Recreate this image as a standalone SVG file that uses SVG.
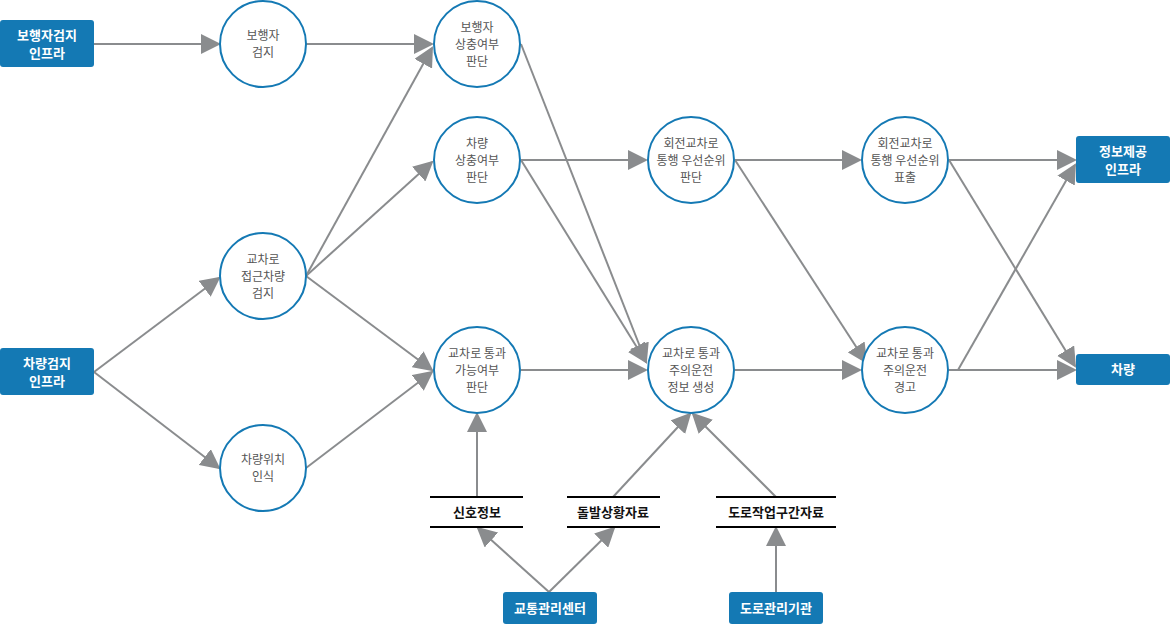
<svg xmlns="http://www.w3.org/2000/svg" width="1170" height="624" viewBox="0 0 1170 624">
<style>
text{font-family:"Noto Sans CJK KR","Noto Sans",sans-serif;text-anchor:middle}
.c{fill:#fff;stroke:#1479b4;stroke-width:2}
.ct{font-size:12px;fill:#555}
.b{fill:#1479b4}
.bt{font-size:13px;font-weight:bold;fill:#fff}
.e{stroke:#8a8c8e;stroke-width:2;fill:none;marker-end:url(#a)}
.s{stroke:#000;stroke-width:2}
.st{font-size:13px;font-weight:bold;fill:#111}
</style>
<defs><marker id="a" viewBox="0 0 10 10" refX="9" refY="5" markerWidth="6" markerHeight="6" orient="auto" markerUnits="userSpaceOnUse" ><path d="M0,0L10,5L0,10z" fill="#8a8c8e"/></marker></defs>
<defs><marker id="a2" viewBox="0 0 10 10" refX="9" refY="5" markerWidth="10" markerHeight="10" orient="auto"><path d="M0,0L10,5L0,10z" fill="#8a8c8e"/></marker></defs>
<style>.e{marker-end:url(#a2)}</style>
<g id="edges">
<line class="e" x1="94" y1="44" x2="219" y2="44"/>
<line class="e" x1="306" y1="44" x2="432" y2="44"/>
<line class="e" x1="94" y1="372" x2="219" y2="278"/>
<line class="e" x1="94" y1="372" x2="219" y2="468"/>
<line class="e" x1="306" y1="276" x2="432" y2="48"/>
<line class="e" x1="306" y1="276" x2="432" y2="162"/>
<line class="e" x1="306" y1="276" x2="432" y2="370"/>
<line class="e" x1="306" y1="468" x2="432" y2="372"/>
<line class="e" x1="521" y1="44" x2="646" y2="362"/>
<line class="e" x1="521" y1="160" x2="646" y2="160"/>
<line class="e" x1="521" y1="160" x2="646" y2="362"/>
<line class="e" x1="521" y1="370" x2="646" y2="370"/>
<line class="e" x1="477" y1="497" x2="477" y2="414"/>
<line class="e" x1="613" y1="497" x2="690" y2="414"/>
<line class="e" x1="776" y1="497" x2="693" y2="414"/>
<line class="e" x1="549" y1="592" x2="478" y2="528"/>
<line class="e" x1="549" y1="592" x2="614" y2="528"/>
<line class="e" x1="776" y1="592" x2="776" y2="528"/>
<line class="e" x1="735" y1="160" x2="860" y2="160"/>
<line class="e" x1="735" y1="160" x2="866" y2="362"/>
<line class="e" x1="735" y1="370" x2="860" y2="370"/>
<line class="e" x1="949" y1="160" x2="1075" y2="160"/>
<line class="e" x1="949" y1="160" x2="1075" y2="366"/>
<line class="e" x1="949" y1="370" x2="1075" y2="370"/>
<line class="e" x1="958" y1="370" x2="1075" y2="165"/>
</g>
<g id="n1"><rect class="b" x="0" y="20" width="94" height="47" rx="3"/><text class="bt" x="47" y="40">보행자검지</text><text class="bt" x="47" y="58">인프라</text></g>
<g id="n2"><rect class="b" x="0" y="348" width="94" height="47" rx="3"/><text class="bt" x="47" y="368">차량검지</text><text class="bt" x="47" y="386">인프라</text></g>
<g id="n3"><rect class="b" x="1076" y="136" width="94" height="47" rx="3"/><text class="bt" x="1123" y="156">정보제공</text><text class="bt" x="1123" y="174">인프라</text></g>
<g id="n4"><rect class="b" x="1076" y="354" width="94" height="31" rx="3"/><text class="bt" x="1123" y="374">차량</text></g>
<g id="n5"><rect class="b" x="503" y="592" width="94" height="32" rx="3"/><text class="bt" x="550" y="613">교통관리센터</text></g>
<g id="n6"><rect class="b" x="729" y="592" width="94" height="32" rx="3"/><text class="bt" x="776" y="613">도로관리기관</text></g>
<g id="c1"><circle class="c" cx="263" cy="44" r="43"/><text class="ct" x="263" y="40">보행자</text><text class="ct" x="263" y="57">검지</text></g>
<g id="c2"><circle class="c" cx="477" cy="44" r="43"/><text class="ct" x="477" y="32">보행자</text><text class="ct" x="477" y="49">상충여부</text><text class="ct" x="477" y="66">판단</text></g>
<g id="c3"><circle class="c" cx="477" cy="160" r="43"/><text class="ct" x="477" y="148">차량</text><text class="ct" x="477" y="165">상충여부</text><text class="ct" x="477" y="182">판단</text></g>
<g id="c4"><circle class="c" cx="263" cy="276" r="43"/><text class="ct" x="263" y="264">교차로</text><text class="ct" x="263" y="281">접근차량</text><text class="ct" x="263" y="298">검지</text></g>
<g id="c5"><circle class="c" cx="477" cy="370" r="43"/><text class="ct" x="477" y="358">교차로 통과</text><text class="ct" x="477" y="375">가능여부</text><text class="ct" x="477" y="392">판단</text></g>
<g id="c6"><circle class="c" cx="263" cy="468" r="43"/><text class="ct" x="263" y="464">차량위치</text><text class="ct" x="263" y="481">인식</text></g>
<g id="c7"><circle class="c" cx="691" cy="160" r="43"/><text class="ct" x="691" y="148">회전교차로</text><text class="ct" x="691" y="165">통행 우선순위</text><text class="ct" x="691" y="182">판단</text></g>
<g id="c8"><circle class="c" cx="691" cy="370" r="43"/><text class="ct" x="691" y="358">교차로 통과</text><text class="ct" x="691" y="375">주의운전</text><text class="ct" x="691" y="392">정보 생성</text></g>
<g id="c9"><circle class="c" cx="905" cy="160" r="43"/><text class="ct" x="905" y="148">회전교차로</text><text class="ct" x="905" y="165">통행 우선순위</text><text class="ct" x="905" y="182">표출</text></g>
<g id="c10"><circle class="c" cx="905" cy="370" r="43"/><text class="ct" x="905" y="358">교차로 통과</text><text class="ct" x="905" y="375">주의운전</text><text class="ct" x="905" y="392">경고</text></g>
<g id="d1"><line class="s" x1="430" y1="497" x2="523" y2="497"/><line class="s" x1="430" y1="527" x2="523" y2="527"/><text class="st" x="477" y="517">신호정보</text></g>
<g id="d2"><line class="s" x1="567" y1="497" x2="660" y2="497"/><line class="s" x1="567" y1="527" x2="660" y2="527"/><text class="st" x="613" y="517">돌발상황자료</text></g>
<g id="d3"><line class="s" x1="716" y1="497" x2="836" y2="497"/><line class="s" x1="716" y1="527" x2="836" y2="527"/><text class="st" x="776" y="517">도로작업구간자료</text></g>
</svg>
